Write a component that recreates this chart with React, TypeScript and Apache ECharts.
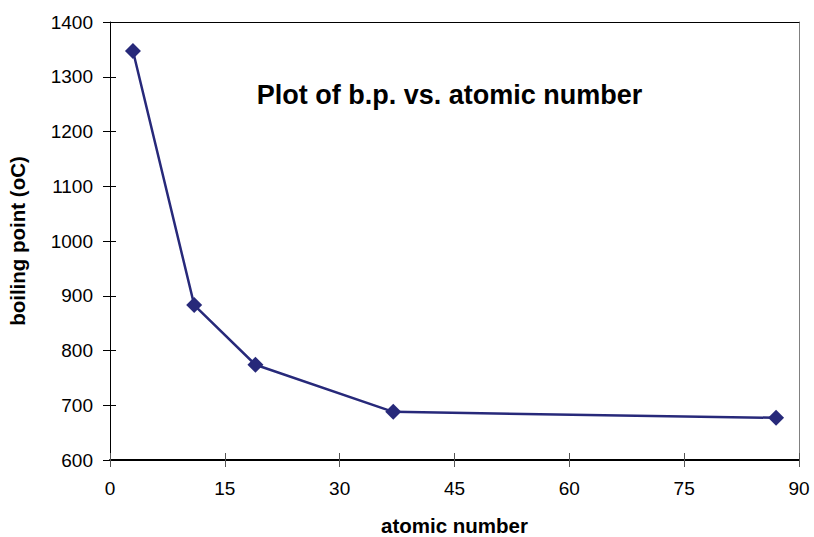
import React, { useEffect, useRef } from "react";
import * as echarts from "echarts";

const atomicNumbers = [3, 11, 19, 37, 87];
const boilingPoints = [1347, 883, 774, 688, 677];
const titleText = "Plot of b.p. vs. atomic number";
const xName = "atomic number";
const yName = "boiling point (oC)";

export default function App() {
  const ref = useRef<HTMLDivElement>(null);
  useEffect(() => {
    if (!ref.current) return;
    const chart = echarts.init(ref.current, undefined, { renderer: "svg" });
    const data = atomicNumbers.map((x, i) => [x, boilingPoints[i]]);
    const font = "Arial, 'Liberation Sans', sans-serif";
    const baseX = { type: "value", min: 0, max: 90, interval: 15 };
    const baseY = { type: "value", min: 600, max: 1400, interval: 100 };
    const plain = (v: number) => String(v);
    chart.setOption({
      animation: false,
      backgroundColor: "#ffffff",
      grid: { left: 110, right: 15, top: 22, bottom: 77, show: false, containLabel: false, outerBoundsMode: "none" },
      graphic: [
        {
          type: "text",
          x: 449.5,
          y: 95,
          style: {
            text: titleText,
            font: `bold 27px ${font}`,
            fill: "#000",
            textAlign: "center",
            textVerticalAlign: "middle",
          },
        },
      ],
      xAxis: [
        {
          ...baseX,
          position: "bottom",
          name: xName,
          nameLocation: "middle",
          nameGap: 55,
          nameTextStyle: { fontFamily: font, fontWeight: "bold", fontSize: 20.5, color: "#000" },
          axisLine: { show: true, onZero: false, lineStyle: { color: "#000", width: 2 } },
          axisTick: { show: true, inside: false, length: 7, lineStyle: { color: "#555", width: 1 } },
          axisLabel: { margin: 19, fontFamily: font, fontSize: 19, color: "#000", formatter: plain },
          splitLine: { show: false },
        },
        {
          ...baseX,
          position: "bottom",
          axisLine: { show: false, onZero: false },
          axisTick: { show: true, inside: true, length: 7, lineStyle: { color: "#555", width: 1 } },
          axisLabel: { show: false },
          splitLine: { show: false },
        },
        {
          ...baseX,
          position: "top",
          axisLine: { show: true, onZero: false, lineStyle: { color: "#000", width: 1 } },
          axisTick: { show: false },
          axisLabel: { show: false },
          splitLine: { show: false },
        },
      ],
      yAxis: [
        {
          ...baseY,
          position: "left",
          name: yName,
          nameLocation: "middle",
          nameGap: 82,
          nameRotate: 90,
          nameTextStyle: { fontFamily: font, fontWeight: "bold", fontSize: 20.5, color: "#000" },
          axisLine: { show: true, onZero: false, lineStyle: { color: "#000", width: 1 } },
          axisTick: { show: true, inside: false, length: 7, lineStyle: { color: "#000", width: 1 } },
          axisLabel: { margin: 17, fontFamily: font, fontSize: 19, color: "#000", formatter: plain },
          splitLine: { show: false },
        },
        {
          ...baseY,
          position: "left",
          axisLine: { show: false, onZero: false },
          axisTick: { show: true, inside: true, length: 6, lineStyle: { color: "#000", width: 1 } },
          axisLabel: { show: false },
          splitLine: { show: false },
        },
        {
          ...baseY,
          position: "right",
          axisLine: { show: true, onZero: false, lineStyle: { color: "#808080", width: 1 } },
          axisTick: { show: false },
          axisLabel: { show: false },
          splitLine: { show: false },
        },
      ],
      series: [
        {
          type: "line",
          xAxisIndex: 0,
          yAxisIndex: 0,
          data,
          symbol: "diamond",
          symbolSize: 16,
          lineStyle: { color: "#27297A", width: 2.5 },
          itemStyle: { color: "#27297A" },
          z: 5,
        },
      ],
    });
    return () => chart.dispose();
  }, []);
  return (
    <div
      ref={ref}
      style={{ position: "absolute", left: 0, top: 0, width: 814, height: 537 }}
    />
  );
}
